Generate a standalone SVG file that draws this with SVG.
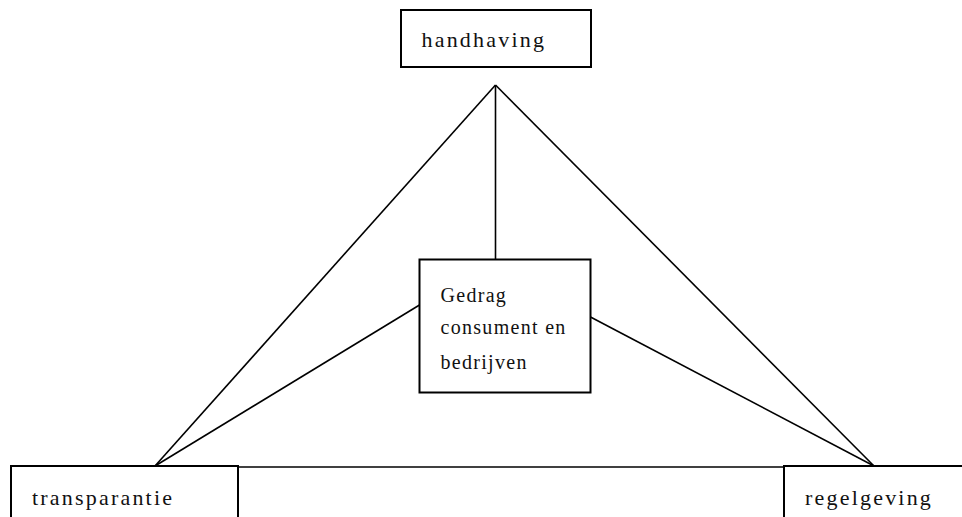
<svg xmlns="http://www.w3.org/2000/svg" width="962" height="517" viewBox="0 0 962 517">
<style>
.box{fill:#fff;stroke:#000;stroke-width:2}
.ln{stroke:#000;stroke-width:1.6;fill:none}
.t{font-family:"Liberation Serif","Times New Roman",serif;font-size:22px;letter-spacing:2.2px;fill:#111}
.s{font-family:"Liberation Serif","Times New Roman",serif;font-size:20px;letter-spacing:1.3px;fill:#111}
</style>
<rect width="962" height="517" fill="#fff"/>
<g id="connectors">
<line class="ln" x1="495.5" y1="85" x2="155" y2="466"/>
<line class="ln" x1="495.5" y1="85" x2="874" y2="466"/>
<line class="ln" x1="495.5" y1="85" x2="495.5" y2="259"/>
<line class="ln" x1="419.5" y1="305" x2="155" y2="466"/>
<line class="ln" x1="590.5" y1="317" x2="874" y2="466"/>
<line class="ln" x1="238" y1="467" x2="784" y2="467"/>
</g>
<g id="handhaving">
<rect class="box" x="401" y="10" width="190" height="57"/>
<text class="t" x="421.5" y="47">handhaving</text>
</g>
<g id="gedrag">
<rect class="box" x="419.5" y="259.5" width="171" height="133"/>
<text class="s" x="440.5" y="301.5">Gedrag</text>
<text class="s" x="440.5" y="333.5">consument en</text>
<text class="s" x="440.5" y="368.5">bedrijven</text>
</g>
<g id="transparantie">
<rect class="box" x="11" y="466" width="227" height="70"/>
<text class="t" x="32" y="505">transparantie</text>
</g>
<g id="regelgeving">
<rect class="box" x="784" y="466" width="200" height="70"/>
<text class="t" x="805" y="505">regelgeving</text>
</g>
</svg>
